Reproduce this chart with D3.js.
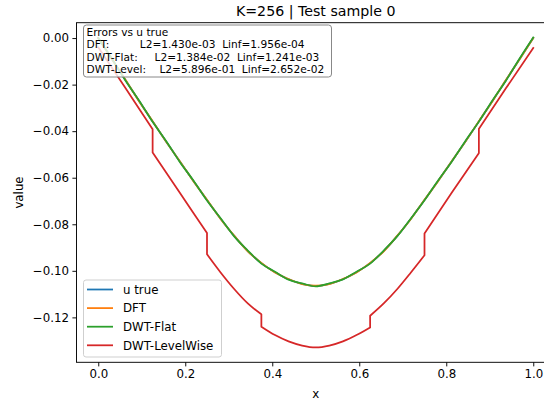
<!DOCTYPE html>
<html>
<head>
<meta charset="utf-8">
<script src="https://cdn.jsdelivr.net/npm/d3@7"></script>
<style>
  body { margin: 0; background: #fff; }
  #chart { width: 544px; height: 405px; }
  text { font-family: "DejaVu Sans", sans-serif; }
</style>
</head>
<body>
<div id="chart"></div>
<script>
console.log("K=256 test sample: reconstructions vs u true");

// grid for u true / DFT / DWT-Flat (step 1/32)
const xGrid = [0, 0.03125, 0.0625, 0.09375, 0.125, 0.15625, 0.1875, 0.21875, 0.25,
  0.28125, 0.3125, 0.34375, 0.375, 0.40625, 0.4375, 0.46875, 0.5,
  0.53125, 0.5625, 0.59375, 0.625, 0.65625, 0.6875, 0.71875, 0.75,
  0.78125, 0.8125, 0.84375, 0.875, 0.90625, 0.9375, 0.96875, 1.0];

const uTrue = [0, -0.0090, -0.0180, -0.0270, -0.0358, -0.0445, -0.0530, -0.0614, -0.0696,
  -0.0776, -0.0850, -0.0915, -0.0967, -0.1006, -0.1036, -0.1056, -0.1065,
  -0.1056, -0.1036, -0.1006, -0.0967, -0.0915, -0.0850, -0.0776, -0.0696,
  -0.0614, -0.0530, -0.0445, -0.0358, -0.0270, -0.0180, -0.0090, 0];

const dft = [0, -0.0091, -0.0179, -0.0271, -0.0357, -0.0446, -0.0529, -0.0615, -0.0695,
  -0.0777, -0.0849, -0.0916, -0.0966, -0.1007, -0.1035, -0.1057, -0.1064,
  -0.1057, -0.1035, -0.1007, -0.0966, -0.0916, -0.0849, -0.0777, -0.0695,
  -0.0615, -0.0529, -0.0446, -0.0357, -0.0271, -0.0179, -0.0091, 0];

const dwtFlat = [0, -0.0088, -0.0182, -0.0268, -0.0360, -0.0443, -0.0532, -0.0612, -0.0698,
  -0.0774, -0.0852, -0.0913, -0.0969, -0.1004, -0.1038, -0.1054, -0.1067,
  -0.1054, -0.1037, -0.1004, -0.0969, -0.0913, -0.0851, -0.0775, -0.0697,
  -0.0612, -0.0531, -0.0443, -0.0359, -0.0268, -0.0182, -0.0088, 0.0002];

// DWT-LevelWise has jumps at multiples of 1/8 (repeated x)
const xLevel = [0, 0.0625, 0.125, 0.125, 0.1875, 0.25, 0.25, 0.28125, 0.3125, 0.34375,
  0.375, 0.375, 0.40625, 0.4375, 0.46875, 0.5, 0.53125, 0.5625, 0.59375, 0.625, 0.625,
  0.65625, 0.6875, 0.71875, 0.75, 0.75, 0.8125, 0.875, 0.875, 0.9375, 1.0];

const dwtLevel = [-0.0040, -0.0215, -0.0392, -0.0492, -0.0665, -0.0838, -0.0929, -0.1007, -0.1078, -0.1140,
  -0.1187, -0.1240, -0.1276, -0.1303, -0.1321, -0.1329, -0.1321, -0.1303, -0.1276, -0.1243, -0.1193,
  -0.1140, -0.1078, -0.1007, -0.0933, -0.0840, -0.0665, -0.0494, -0.0390, -0.0215, -0.0043];

const seriesNames = ['u true', 'DFT', 'DWT-Flat', 'DWT-LevelWise'];
const seriesColors = ['#1f77b4', '#ff7f0e', '#2ca02c', '#d62728'];

const xTicks = [0, 0.2, 0.4, 0.6, 0.8, 1.0];
const yTicks = [0, -0.02, -0.04, -0.06, -0.08, -0.10, -0.12];

const errorLines = [
  'Errors vs u true',
  'DFT:         L2=1.430e-03  Linf=1.956e-04',
  'DWT-Flat:     L2=1.384e-02  Linf=1.241e-03',
  'DWT-Level:    L2=5.896e-01  Linf=2.652e-02'
];

renderChart(document.getElementById('chart'));

function renderChart(dom){
  const W = 544, H = 405;
  const m = {l: 76.5, r: 555, t: 22.7, b: 362.3};

  const svg = d3.select(dom).append('svg')
    .attr('width', W)
    .attr('height', H);

  const x = d3.scaleLinear().domain([-0.05, 1.05]).range([m.l, m.r]);
  const y = d3.scaleLinear().domain([-0.1393, 0.0066]).range([m.b, m.t]);

  svg.append('clipPath').attr('id', 'clip')
    .append('rect')
    .attr('x', m.l).attr('y', m.t)
    .attr('width', m.r - m.l).attr('height', m.b - m.t);

  // smooth line, split into pieces where x repeats (the jumps)
  const line = d3.line().x(d => x(d[0])).y(d => y(d[1])).curve(d3.curveMonotoneX);
  function jumpPath(pts){
    const pieces = [[pts[0]]];
    for (let i = 1; i < pts.length; i++){
      if (pts[i][0] === pts[i-1][0]) pieces.push([]);
      pieces[pieces.length - 1].push(pts[i]);
    }
    return pieces.map((p, i) => {
      const s = line(p);
      return i === 0 ? s : 'L' + s.slice(1);
    }).join('');
  }

  const data = [
    d3.zip(xGrid, uTrue),
    d3.zip(xGrid, dft),
    d3.zip(xGrid, dwtFlat),
    d3.zip(xLevel, dwtLevel)
  ];

  svg.append('g').attr('clip-path', 'url(#clip)')
    .selectAll('path')
    .data(data)
    .enter()
    .append('path')
    .attr('d', jumpPath)
    .style('fill', 'none')
    .style('stroke', (d, i) => seriesColors[i])
    .style('stroke-width', 1.77)
    .style('stroke-linejoin', 'round')
    .style('stroke-linecap', 'square');

  // axes
  const fmtMinus = s => s.replace('-', '\u2212');
  const xAxis = svg.append('g')
    .attr('transform', `translate(0,${m.b})`)
    .call(d3.axisBottom(x).tickValues(xTicks).tickSize(4.1).tickPadding(3.5)
      .tickFormat(d => fmtMinus(d3.format('.1f')(d))));
  const yAxis = svg.append('g')
    .attr('transform', `translate(${m.l},0)`)
    .call(d3.axisLeft(y).tickValues(yTicks).tickSize(4.1).tickPadding(3.5)
      .tickFormat(d => fmtMinus(d3.format('.2f')(d))));

  [xAxis, yAxis].forEach(a => {
    a.select('.domain').remove();
    a.selectAll('line').style('stroke', '#000').style('stroke-width', 0.94);
    a.selectAll('text').style('font-size', '11.8px').style('fill', '#000')
      .style('font-family', '"DejaVu Sans", sans-serif');
  });

  // spines
  svg.append('rect')
    .attr('x', m.l).attr('y', m.t)
    .attr('width', m.r - m.l).attr('height', m.b - m.t)
    .style('fill', 'none').style('stroke', '#000').style('stroke-width', 0.94);

  // labels
  svg.append('text')
    .attr('x', (m.l + m.r) / 2).attr('y', 16)
    .attr('text-anchor', 'middle')
    .style('font-size', '14.2px')
    .text('K=256 | Test sample 0');

  svg.append('text')
    .attr('x', (m.l + m.r) / 2).attr('y', 398)
    .attr('text-anchor', 'middle')
    .style('font-size', '11.8px')
    .text('x');

  svg.append('text')
    .attr('transform', `translate(23,${(m.t + m.b) / 2}) rotate(-90)`)
    .attr('text-anchor', 'middle')
    .style('font-size', '11.8px')
    .text('value');

  // error text box
  const box = svg.append('g');
  box.append('rect')
    .attr('x', 83.5).attr('y', 25)
    .attr('width', 248).attr('height', 52)
    .attr('rx', 3)
    .style('fill', 'white').style('fill-opacity', 0.8)
    .style('stroke', '#888').style('stroke-width', 1);
  box.selectAll('text')
    .data(errorLines)
    .enter()
    .append('text')
    .attr('x', 86.5)
    .attr('y', (d, i) => 36 + i * 12.3)
    .attr('xml:space', 'preserve')
    .style('white-space', 'pre')
    .style('font-size', '10.6px')
    .text(d => d);

  // legend
  const leg = svg.append('g');
  leg.append('rect')
    .attr('x', 83.5).attr('y', 280)
    .attr('width', 138).attr('height', 77)
    .attr('rx', 2.5)
    .style('fill', 'white').style('fill-opacity', 0.8)
    .style('stroke', '#ccc').style('stroke-width', 0.94);
  const items = leg.selectAll('.item')
    .data(seriesNames)
    .enter()
    .append('g')
    .attr('class', 'item')
    .attr('transform', (d, i) => `translate(0,${289.5 + i * 18.6})`);
  items.append('line')
    .attr('x1', 87).attr('x2', 113)
    .style('stroke', (d, i) => seriesColors[i])
    .style('stroke-width', 1.77);
  items.append('text')
    .attr('x', 123).attr('y', 4.2)
    .style('font-size', '11.8px')
    .text(d => d);
}
</script>
</body>
</html>
